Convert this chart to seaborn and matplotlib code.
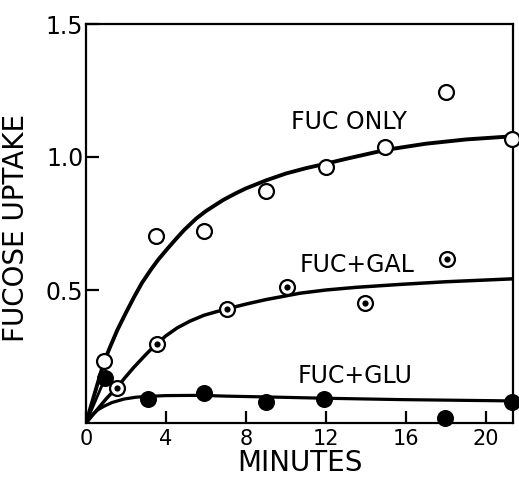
import matplotlib
matplotlib.use("Agg")
import matplotlib.pyplot as plt
import seaborn as sns

# ---- measured points ----
only_x = [0.9, 3.5, 5.9, 9.0, 12.0, 14.95, 18.0, 21.3]
only_y = [0.233, 0.703, 0.722, 0.873, 0.964, 1.036, 1.245, 1.067]

gal_x = [1.53, 3.53, 7.03, 10.07, 13.93, 18.03]
gal_y = [0.133, 0.297, 0.429, 0.511, 0.451, 0.615]

glu_x = [0.95, 3.08, 5.9, 9.0, 11.9, 17.95, 21.3]
glu_y = [0.168, 0.09, 0.112, 0.08, 0.09, 0.018, 0.078]

# ---- fitted curves ----
only_cx = [0, 0.9, 1.2, 1.57, 2.0, 2.4, 2.8, 3.23, 3.6, 4.07, 4.5, 4.9, 5.5, 6.0,
           6.85, 7.5, 8.0, 9.0, 10.0, 11.0, 12.0, 13.0, 15.0, 17.0, 19.0, 21.35]
only_cy = [0, 0.23, 0.285, 0.35, 0.415, 0.473, 0.527, 0.575, 0.613, 0.655, 0.692, 0.725, 0.768, 0.797,
           0.838, 0.864, 0.882, 0.912, 0.938, 0.958, 0.975, 0.993, 1.027, 1.05, 1.066, 1.078]

gal_cx = [0, 0.5, 1.0, 1.57, 2.0, 2.4, 3.0, 3.48, 4.0, 4.57, 5.2, 5.9, 6.5, 7.1, 8.0, 9.0,
          10.0, 10.7, 12.0, 13.5, 15.7, 18.0, 21.35]
gal_cy = [0, 0.045, 0.09, 0.136, 0.175, 0.21, 0.258, 0.294, 0.328, 0.358, 0.383, 0.405, 0.418, 0.43,
          0.447, 0.464, 0.478, 0.488, 0.5, 0.51, 0.521, 0.531, 0.542]

glu_cx = [0, 0.3, 0.6, 0.9, 1.3, 1.9, 2.5, 3.07, 4.0, 5.7, 7.0, 9.0, 12.0, 15.7, 21.35]
glu_cy = [0, 0.03, 0.05, 0.063, 0.077, 0.09, 0.097, 0.1, 0.103, 0.104, 0.101, 0.098, 0.093, 0.088, 0.083]

glu_seg_x = [0, 0.95]
glu_seg_y = [0, 0.168]

x_ticks = [0, 4, 8, 12, 16, 20]
y_ticks = [0.5, 1.0, 1.5]
y_ticklabels = ["0.5", "1.0", "1.5"]

labels = ["FUC ONLY", "FUC+GAL", "FUC+GLU"]
label_x = [13.15, 13.55, 13.43]
label_y = [1.133, 0.594, 0.177]

sns.set_style("ticks")
plt.rcParams['font.family'] = ['DejaVu Sans']
plt.rcParams['text.color'] = 'black'
plt.rcParams['axes.labelcolor'] = 'black'
plt.rcParams['xtick.color'] = 'black'
plt.rcParams['ytick.color'] = 'black'

fig = plt.figure(figsize=(5.19, 4.84), dpi=100)
ax = fig.add_axes([86/519, 1-423/484, (513-86)/519, (423-24)/484])

k = "black"
sns.lineplot(x=only_cx, y=only_cy, ax=ax, color=k, lw=2.8, sort=False, zorder=2)
sns.lineplot(x=gal_cx, y=gal_cy, ax=ax, color=k, lw=2.5, sort=False, zorder=2)
sns.lineplot(x=glu_cx, y=glu_cy, ax=ax, color=k, lw=2.3, sort=False, zorder=2)
sns.lineplot(x=glu_seg_x, y=glu_seg_y, ax=ax, color=k, lw=2.0, sort=False, zorder=2)

sns.scatterplot(x=only_x, y=only_y, ax=ax, s=115, facecolor="white", edgecolor=k, linewidth=1.6, zorder=4, clip_on=False)
sns.scatterplot(x=gal_x, y=gal_y, ax=ax, s=115, facecolor="white", edgecolor=k, linewidth=1.6, zorder=4, clip_on=False)
sns.scatterplot(x=gal_x, y=gal_y, ax=ax, s=20, color=k, linewidth=0, zorder=5, clip_on=False)
sns.scatterplot(x=glu_x, y=glu_y, ax=ax, s=150, color=k, linewidth=0, zorder=4, clip_on=False)

for t, tx, ty in zip(labels, label_x, label_y):
    ax.text(tx, ty, t, ha="center", va="center", fontsize=17, color=k)

ax.set_xlim(0, 21.35)
ax.set_ylim(0, 1.5)
ax.set_xticks(x_ticks)
ax.set_xticklabels([str(v) for v in x_ticks], fontsize=15)
ax.set_yticks(y_ticks)
ax.set_yticklabels(y_ticklabels, fontsize=17)
ax.tick_params(axis="both", direction="in", length=9, width=1.6, color=k, labelcolor=k)
ax.tick_params(axis="x", pad=4)
ax.tick_params(axis="y", pad=2)
for s in ax.spines.values():
    s.set_visible(True)
    s.set_linewidth(1.6)
    s.set_color(k)

ax.set_xlabel("MINUTES", fontsize=20, labelpad=0, color=k)
ax.set_ylabel("FUCOSE UPTAKE", fontsize=20, color=k)
ax.yaxis.set_label_coords((30 - 86) / 427, (423 - 228) / 399)

fig.savefig("out.png", dpi=100)
